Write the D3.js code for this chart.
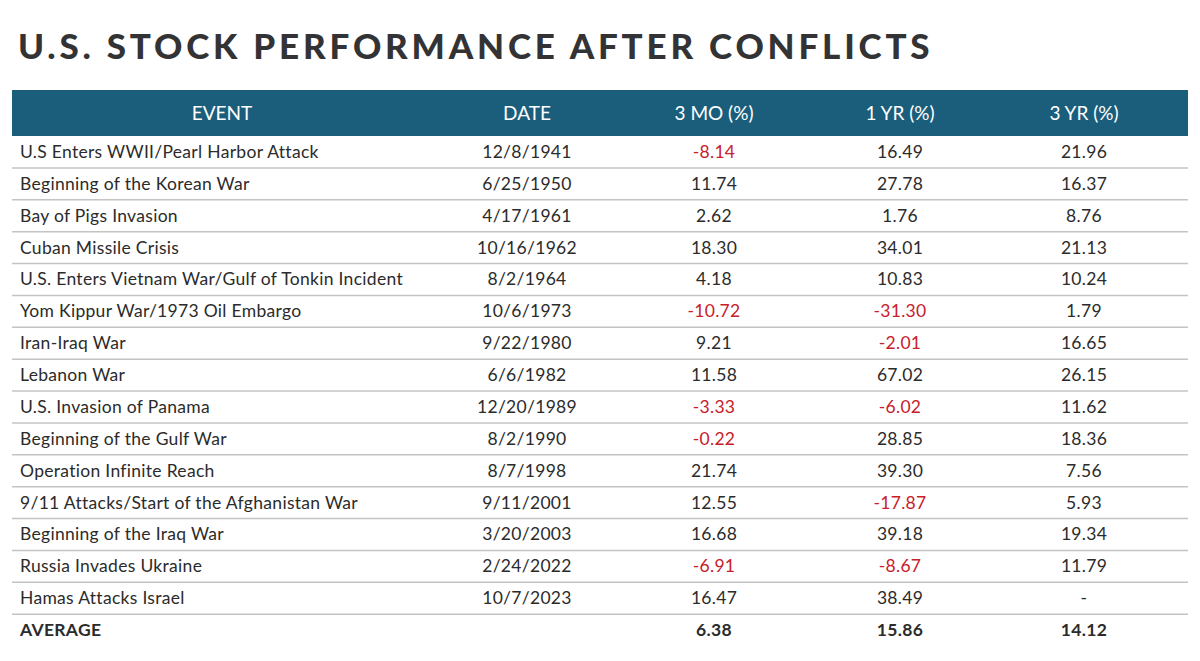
<!DOCTYPE html>
<html><head><meta charset="utf-8">
<script src="https://cdn.jsdelivr.net/npm/d3@7"></script>
<style>body{margin:0;background:#fff;}</style>
</head><body><svg></svg>
<script>
var events = ["U.S Enters WWII/Pearl Harbor Attack","Beginning of the Korean War","Bay of Pigs Invasion","Cuban Missile Crisis","U.S. Enters Vietnam War/Gulf of Tonkin Incident","Yom Kippur War/1973 Oil Embargo","Iran-Iraq War","Lebanon War","U.S. Invasion of Panama","Beginning of the Gulf War","Operation Infinite Reach","9/11 Attacks/Start of the Afghanistan War","Beginning of the Iraq War","Russia Invades Ukraine","Hamas Attacks Israel"];
var dates = ["12/8/1941","6/25/1950","4/17/1961","10/16/1962","8/2/1964","10/6/1973","9/22/1980","6/6/1982","12/20/1989","8/2/1990","8/7/1998","9/11/2001","3/20/2003","2/24/2022","10/7/2023"];
var mo3 = [-8.14,11.74,2.62,18.30,4.18,-10.72,9.21,11.58,-3.33,-0.22,21.74,12.55,16.68,-6.91,16.47];
var yr1 = [16.49,27.78,1.76,34.01,10.83,-31.30,-2.01,67.02,-6.02,28.85,39.30,-17.87,39.18,-8.67,38.49];
var yr3 = [21.96,16.37,8.76,21.13,10.24,1.79,16.65,26.15,11.62,18.36,7.56,5.93,19.34,11.79,null];
var averages = [6.38,15.86,14.12];
var headers = ["EVENT","DATE","3 MO (%)","1 YR (%)","3 YR (%)"];

var svg = d3.select("svg").attr("width",1200).attr("height",661);
var font = "Lato, 'Open Sans', sans-serif";

svg.append("text").attr("x",18).attr("y",59)
  .attr("font-family",font).attr("font-weight","900").attr("font-size",35)
  .attr("letter-spacing",3.8).attr("fill","#333336")
  .text("U.S. STOCK PERFORMANCE AFTER CONFLICTS");

var colX = [222,527,714,900,1084];
svg.append("rect").attr("x",12).attr("y",90).attr("width",1176).attr("height",46).attr("fill","#1a5e7c");
svg.selectAll(".hd").data(headers).enter().append("text")
  .attr("x",function(d,i){return colX[i];}).attr("y",120)
  .attr("text-anchor","middle").attr("font-family",font).attr("font-size",19)
  .attr("fill","#fff").text(function(d){return d;});

var rows = events.concat(["AVERAGE"]);
var y = d3.scaleBand().domain(d3.range(rows.length)).range([136,646]);

var g = svg.selectAll(".row").data(rows).enter().append("g")
  .attr("transform",function(d,i){return "translate(0,"+y(i)+")";});
g.append("line").attr("x1",12).attr("x2",1188)
  .attr("y1",y.bandwidth()).attr("y2",y.bandwidth())
  .attr("stroke","#c4c4c4").attr("stroke-width",1.5)
  .attr("display",function(d,i){return i===rows.length-1?"none":null;});

function fmt(v){return v===null?"-":v.toFixed(2);}
g.each(function(d,i){
  var r = d3.select(this), avg = i===events.length;
  var cells = avg ? [d,"",fmt(averages[0]),fmt(averages[1]),fmt(averages[2])]
                  : [d,dates[i],fmt(mo3[i]),fmt(yr1[i]),fmt(yr3[i])];
  var vals = avg ? [null,null,averages[0],averages[1],averages[2]] : [null,null,mo3[i],yr1[i],yr3[i]];
  cells.forEach(function(c,j){
    r.append("text").attr("x",j===0?20:colX[j]).attr("y",y.bandwidth()/2+6)
      .attr("text-anchor",j===0?"start":"middle")
      .attr("font-family",font).attr("font-size",17.5).attr("letter-spacing",0.3)
      .attr("font-weight",avg?"bold":"normal")
      .attr("fill",vals[j]!==null&&vals[j]<0?"#c8202a":"#2b2b2b")
      .text(c);
  });
});
</script></body></html>
